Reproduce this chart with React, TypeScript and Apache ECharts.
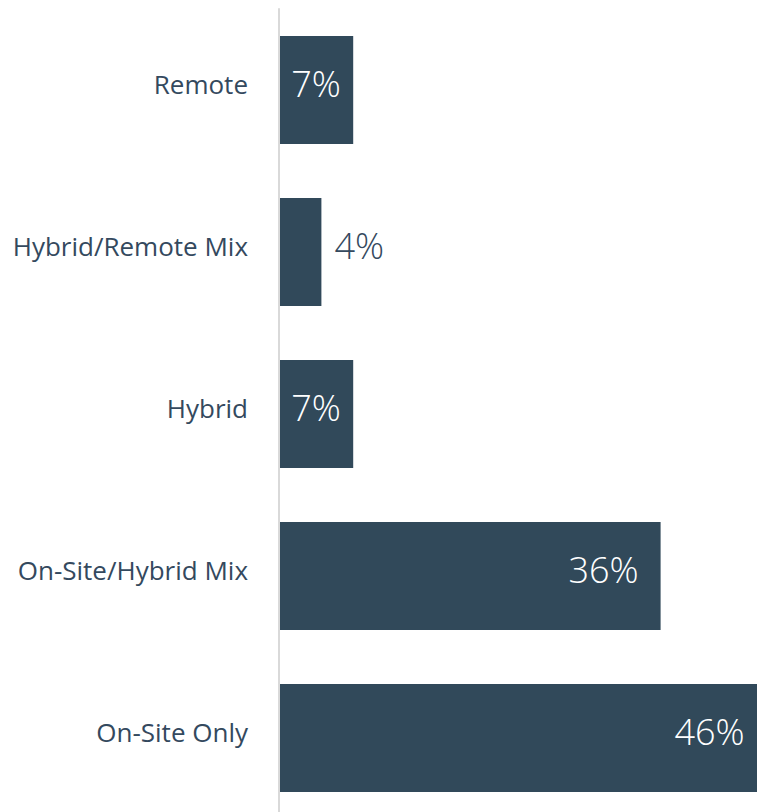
import React, { useEffect, useRef } from "react";
import * as echarts from "echarts";

// Work arrangement shares, top to bottom
const categories = ["Remote", "Hybrid/Remote Mix", "Hybrid", "On-Site/Hybrid Mix", "On-Site Only"];
const shares = [7, 4, 7, 36, 46];
// Where each value label sits relative to its bar
const labelPlacement = ["inside", "right", "inside", "insideRight", "insideRight"];

const BAR_COLOR = "#31495a";
const TEXT_COLOR = "#34495e";
const FONT = "'Open Sans', 'Noto Sans', sans-serif";

export default function App() {
  const ref = useRef<HTMLDivElement>(null);

  useEffect(() => {
    if (!ref.current) return;
    const chart = echarts.init(ref.current, undefined, { renderer: "svg" });

    const data = shares.map((v, i) => {
      const pos = labelPlacement[i];
      return {
        value: v,
        label: {
          show: true,
          position: pos,
          distance: pos === "insideRight" ? 22 : 13,
          color: pos === "right" ? TEXT_COLOR : "#ffffff",
          offset: [0, -7],
        },
      };
    });

    chart.setOption({
      animation: false,
      grid: { left: 279, top: 9, width: 530, height: 810, containLabel: false },
      xAxis: {
        type: "value",
        min: 0,
        max: 50,
        show: false,
        splitLine: { show: false },
      },
      yAxis: {
        type: "category",
        data: categories,
        inverse: true,
        z: 5,
        axisLine: { show: true, lineStyle: { color: "#d9d9d9", width: 2 } },
        axisTick: { show: false },
        axisLabel: {
          color: TEXT_COLOR,
          fontSize: 26,
          fontFamily: FONT,
          margin: 31,
          verticalAlign: "bottom",
          lineHeight: 13,
        },
        splitLine: { show: false },
      },
      series: [
        {
          type: "bar",
          data,
          barCategoryGap: "33.3%",
          itemStyle: { color: BAR_COLOR },
          label: {
            fontSize: 36,
            fontFamily: FONT,
            fontWeight: 300,
            formatter: "{c}%",
          },
        },
      ],
    });

    return () => chart.dispose();
  }, []);

  return (
    <div style={{ position: "fixed", left: 0, top: 0, width: 757, height: 812, overflow: "hidden", background: "#fff" }}>
      <div ref={ref} style={{ width: 840, height: 830 }} />
    </div>
  );
}
